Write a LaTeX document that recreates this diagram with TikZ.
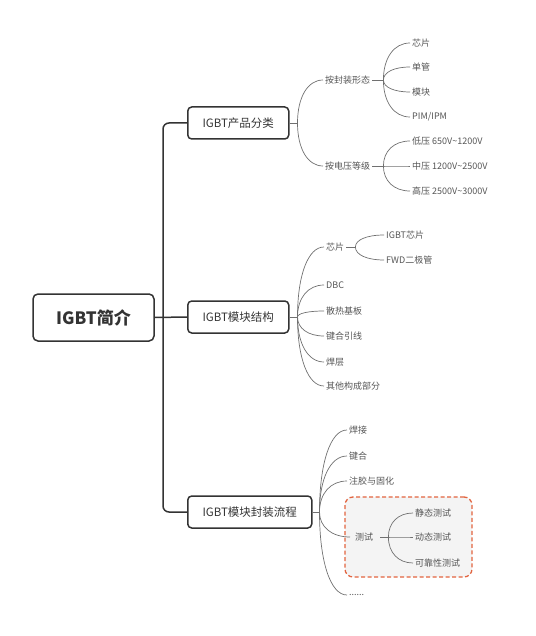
\documentclass[tikz,border=0pt]{standalone}
\usepackage{fontspec}
\setmainfont{Noto Sans CJK SC}
\usetikzlibrary{calc}
\definecolor{boxline}{HTML}{333333}
\definecolor{twigline}{HTML}{707070}
\definecolor{leaftext}{HTML}{555555}
\definecolor{testred}{HTML}{E2643F}
\definecolor{testfill}{HTML}{F4F4F4}
\tikzset{
  topic/.style={draw=boxline, line width=1.5pt, rounded corners=4pt, text=boxline,
    font=\fontsize{11.5}{13}\selectfont, minimum height=32pt, inner xsep=13.5pt, anchor=west},
  leaf/.style={anchor=west, inner sep=2pt, text=leaftext, font=\fontsize{9}{11}\selectfont},
  twig/.style={draw=twigline, line width=0.7pt},
  curvy/.style={to path={.. controls ($(\tikztostart)!0.6!(\tikztostart|-\tikztotarget)$)
    and ($(\tikztostart|-\tikztotarget)!0.4!(\tikztotarget)$) .. (\tikztotarget) \tikztonodes}},
}

\begin{document}
\begin{tikzpicture}[x=1pt,y=-1pt]
\useasboundingbox (0,0) rectangle (535,636);

% test group background
\node[draw=testred, fill=testfill, line width=1.3pt, dash pattern=on 4pt off 2.5pt,
  rounded corners=8pt, minimum width=127pt, minimum height=80pt] (testbox) at (408.5,537) {};

% root and main topics
\node[draw=boxline, line width=1.5pt, rounded corners=5pt, text=boxline,
  font=\fontsize{17}{20}\bfseries, minimum width=121pt, minimum height=47pt] (root) at (93.5,317.5) {IGBT简介};
\node[topic, minimum width=101pt] (prod) at (187,123) {IGBT产品分类};
\node[topic, minimum width=101pt] (struct) at (187,317) {IGBT模块结构};
\node[topic, minimum width=124pt] (pack) at (187,512) {IGBT模块封装流程};

\coordinate (trunk) at (163,317);
\draw[boxline, line width=1.5pt] (root.east) -- (struct.west);
\draw[boxline, line width=1.5pt, rounded corners=6pt] (prod.west) -| (trunk) |- (pack.west);

% IGBT产品分类
\coordinate (s1) at ($(prod.east)+(8,0)$);
\draw[twig] (prod.east) -- (s1);
\node[leaf] (form) at (323,80) {按封装形态};
\node[leaf] (volt) at (323,166) {按电压等级};
\draw[twig] (s1) to[curvy] (form.west) (s1) to[curvy] (volt.west);

\coordinate (s11) at ($(form.east)+(11,0)$);
\draw[twig] (form.east) -- (s11);
\foreach \name/\txt/\y in {chip/芯片/43, tube/单管/67, modu/模块/92, pim/{PIM/IPM}/117} {
  \node[leaf] (\name) at (410,\y) {\txt};
  \draw[twig] (s11) to[curvy] (\name.west);
}

\coordinate (s12) at ($(volt.east)+(11,0)$);
\draw[twig] (volt.east) -- (s12);
\foreach \name/\txt/\y in {low/低压 650V\textasciitilde1200V/141,
    mid/中压 1200V\textasciitilde2500V/166, high/高压 2500V\textasciitilde3000V/191} {
  \node[leaf] (\name) at (410,\y) {\txt};
  \draw[twig] (s12) to[curvy] (\name.west);
}

% IGBT模块结构
\coordinate (s2) at ($(struct.east)+(8,0)$);
\draw[twig] (struct.east) -- (s2);
\foreach \name/\txt/\y in {die/芯片/247, dbc/DBC/285, base/散热基板/311,
    wire/键合引线/336, solder/焊层/362, other/其他构成部分/386} {
  \node[leaf] (\name) at (324,\y) {\txt};
  \draw[twig] (s2) to[curvy] (\name.west);
}
\coordinate (s21) at ($(die.east)+(9,0)$);
\draw[twig] (die.east) -- (s21);
\foreach \name/\txt/\y in {igbtdie/IGBT芯片/235, fwd/FWD二极管/260} {
  \node[leaf] (\name) at (384,\y) {\txt};
  \draw[twig] (s21) to[curvy] (\name.west);
}

% IGBT模块封装流程
\coordinate (s3) at ($(pack.east)+(7,0)$);
\draw[twig] (pack.east) -- (s3);
\foreach \name/\txt/\y in {weld/焊接/430, bond/键合/456, glue/注胶与固化/481} {
  \node[leaf] (\name) at (347,\y) {\txt};
  \draw[twig] (s3) to[curvy] (\name.west);
}
\node[leaf] (more) at (347,595) {......};
\draw[twig] (s3) to[curvy] (more.west);
\node[leaf, inner xsep=5pt] (test) at (350,537) {测试};
\draw[twig] (s3) to[curvy] (test.west);

\coordinate (s31) at ($(test.east)+(10,0)$);
\draw[twig] ($(test.east)+(2,0)$) -- (s31);
\foreach \name/\txt/\y in {static/静态测试/513, dynamic/动态测试/537, reliab/可靠性测试/563} {
  \node[leaf] (\name) at (413,\y) {\txt};
  \draw[twig] (s31) to[curvy] (\name.west);
}
\end{tikzpicture}
\end{document}
